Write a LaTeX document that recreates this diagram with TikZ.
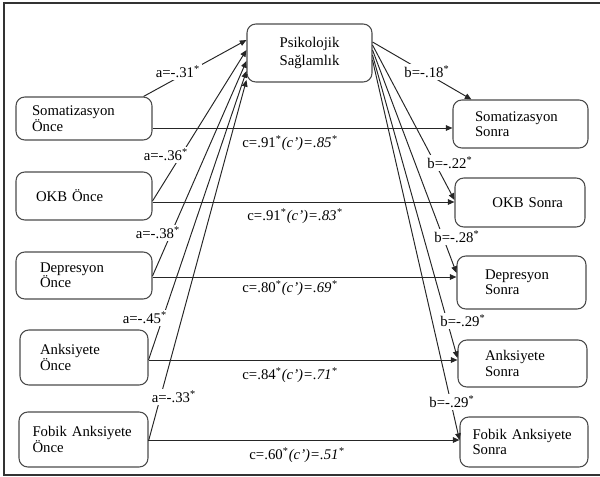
\documentclass[tikz,border=0pt]{standalone}
\usepackage{fontspec}
\setmainfont{Liberation Serif}
\usetikzlibrary{calc, arrows.meta}
\tikzset{
	varbox/.style={draw=black!70, line width=0.6pt, rounded corners=5pt, align=left,
	  inner ysep=0pt, font=\fontsize{8.4}{8.8}\selectfont}
}
\tikzset{
	coef/.style={fill=white, inner sep=1pt, font=\fontsize{8.4}{8.8}\selectfont}
}
\tikzset{
	pathline/.style={draw=black!85, line width=0.55pt, -{Triangle[length=3.8pt,width=3.2pt]}}
}

\begin{document}
\begin{tikzpicture}[x=0.02cm, y=-0.02cm]
      \useasboundingbox (0,0) rectangle (600,477);

      % outer frame
      \draw[black!80, line width=0.8pt] (601,3) -- (4,3) -- (4,475) -- (601,475);

      % mediator
      \node[varbox, align=center, text width=1.9cm, inner xsep=0.3cm, minimum height=1.16cm,
            font=\fontsize{8.4}{10.2}\selectfont]
        (psi) at (309.5,53) {Psikolojik\\Sağlamlık};

      % variables before (left column)
      \node[varbox, text width=2.08cm, inner xsep=0.32cm, minimum height=0.86cm]
        (somOnce) at (84,118.5) {Somatizasyon\\Önce};
      \node[varbox, text width=1.92cm, inner xsep=0.4cm, minimum height=0.96cm]
        (okbOnce) at (84,196) {OKB Önce};
      \node[varbox, text width=1.76cm, inner xsep=0.48cm, minimum height=0.94cm]
        (depOnce) at (84,275.5) {Depresyon\\Önce};
      \node[varbox, text width=1.76cm, inner xsep=0.4cm, minimum height=1.1cm]
        (ankOnce) at (84,357.5) {Anksiyete\\Önce};
      \node[varbox, text width=2.04cm, inner xsep=0.27cm, minimum height=1.1cm]
        (fobOnce) at (83.5,439.5) {Fobik Anksiyete\\Önce};

      % variables after (right column)
      \node[varbox, text width=1.82cm, inner xsep=0.44cm, minimum height=0.96cm]
        (somSonra) at (520.5,124) {Somatizasyon\\Sonra};
      \node[varbox, align=right, text width=1.72cm, inner xsep=0.44cm, minimum height=0.98cm]
        (okbSonra) at (520,202.5) {OKB Sonra};
      \node[varbox, text width=1.46cm, inner xsep=0.56cm, minimum height=1.06cm]
        (depSonra) at (521.5,282.5) {Depresyon\\Sonra};
      \node[varbox, text width=1.5cm, inner xsep=0.54cm, minimum height=0.94cm]
        (ankSonra) at (522.5,363.5) {Anksiyete\\Sonra};
      \node[varbox, text width=2.06cm, inner xsep=0.25cm, minimum height=1.0cm]
        (fobSonra) at (524,442) {Fobik Anksiyete\\Sonra};

      % direct paths (c)
      \foreach \a/\b/\y in {somOnce/somSonra/128, okbOnce/okbSonra/202, depOnce/depSonra/277,
                            ankOnce/ankSonra/360, fobOnce/fobSonra/440}
        \draw[pathline] (\a.east |- 0,\y) -- (\b.west |- 0,\y);

      % paths into the mediator (a)
      \draw[pathline] ($(somOnce.north east)+(-9,0)$) -- (psi.west |- 0,40);
      \foreach \a/\ys/\ye in {okbOnce/201/50, depOnce/276/61, ankOnce/360/71, fobOnce/441/80}
        \draw[pathline] (\a.east |- 0,\ys) -- (psi.west |- 0,\ye);

      % paths out of the mediator (b)
      \draw[pathline] (psi.east |- 0,42) -- ($(somSonra.north west)+(19,0)$);
      \foreach \b/\ys/\ye in {okbSonra/45/200, depSonra/50/273, ankSonra/55/358, fobSonra/60/440}
        \draw[pathline] (psi.east |- 0,\ys) -- (\b.west |- 0,\ye);

      % coefficients
      \node[coef] (la1) at (178,72) {a=-.31\textsuperscript{*}};
      \node[coef] (la2) at (166,155) {a=-.36\textsuperscript{*}};
      \node[coef] (la3) at (158,233) {a=-.38\textsuperscript{*}};
      \node[coef] (la4) at (145,318) {a=-.45\textsuperscript{*}};
      \node[coef] (la5) at (174,397) {a=-.33\textsuperscript{*}};

      \node[coef] (lb1) at (427,72) {b=-.18\textsuperscript{*}};
      \node[coef] (lb2) at (450,163) {b=-.22\textsuperscript{*}};
      \node[coef] (lb3) at (457,237) {b=-.28\textsuperscript{*}};
      \node[coef] (lb4) at (463,321) {b=-.29\textsuperscript{*}};
      \node[coef] (lb5) at (452,402) {b=-.29\textsuperscript{*}};

      \node[coef] (lc1) at (290,143) {c=.91\textsuperscript{*}\textit{(c')=.85\textsuperscript{*}}};
      \node[coef] (lc2) at (295,216) {c=.91\textsuperscript{*}\textit{(c')=.83\textsuperscript{*}}};
      \node[coef] (lc3) at (290,288) {c=.80\textsuperscript{*}\textit{(c')=.69\textsuperscript{*}}};
      \node[coef] (lc4) at (290,375) {c=.84\textsuperscript{*}\textit{(c')=.71\textsuperscript{*}}};
      \node[coef] (lc5) at (297,455) {c=.60\textsuperscript{*}\textit{(c')=.51\textsuperscript{*}}};
    \end{tikzpicture}
\end{document}
